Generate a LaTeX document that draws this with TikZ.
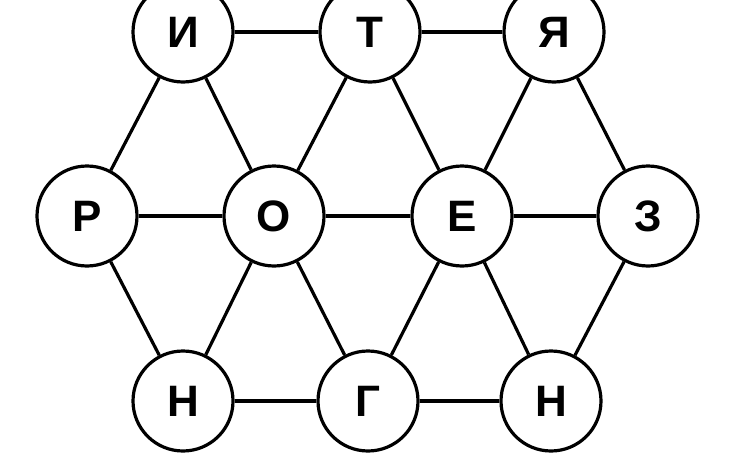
\documentclass[tikz,border=0pt]{standalone}
\usepackage{fontspec}
\setmainfont{Liberation Sans}
\begin{document}
\begin{tikzpicture}[x=1pt,y=-1pt,
  letter/.style={circle,draw=black,line width=3.2pt,fill=white,minimum size=100pt,inner sep=0pt,
    font=\fontsize{44}{44}\selectfont\bfseries},
  edge/.style={line width=3.2pt}]
\useasboundingbox (0,0) rectangle (730,460);
\node[letter] (i) at (183,32) {И};
\node[letter] (t) at (370,32) {Т};
\node[letter] (ya) at (554,32) {Я};
\node[letter] (r) at (87,216) {Р};
\node[letter] (o) at (274,216) {О};
\node[letter] (e) at (462,216) {Е};
\node[letter] (z) at (648,216) {З};
\node[letter] (n1) at (183,401) {Н};
\node[letter] (g) at (368,401) {Г};
\node[letter] (n2) at (551,401) {Н};
\foreach \a/\b in {i/t,t/ya,i/r,i/o,t/o,t/e,ya/e,ya/z,r/o,o/e,e/z,r/n1,o/n1,o/g,e/g,e/n2,z/n2,n1/g,g/n2}
  \draw[edge] (\a) -- (\b);
\end{tikzpicture}
\end{document}
